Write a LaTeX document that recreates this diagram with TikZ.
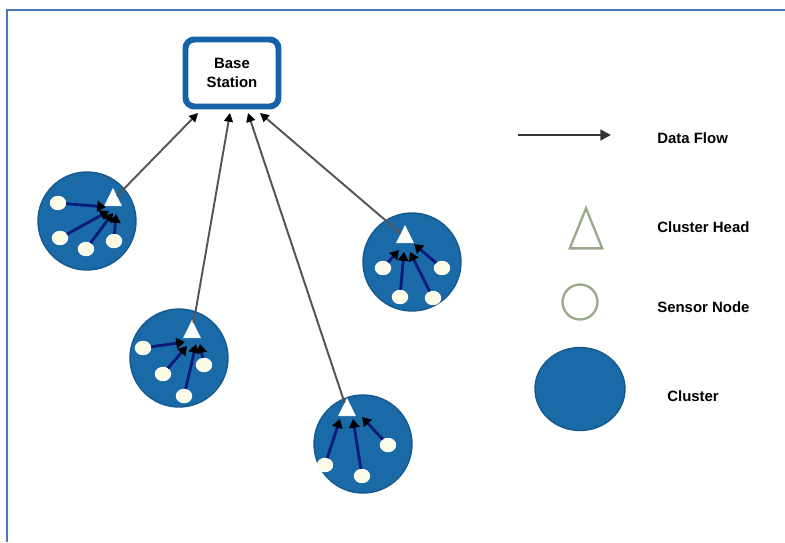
\documentclass[tikz,border=0pt]{standalone}
\usepackage{fontspec}
\setmainfont{Liberation Sans}
\usetikzlibrary{shapes.geometric,arrows.meta}
\definecolor{clblue}{HTML}{1B6AA8}
\definecolor{clborder}{HTML}{15588E}
\definecolor{bsblue}{HTML}{1662A8}
\definecolor{navy}{HTML}{0A1A78}
\definecolor{cream}{HTML}{FCFCE6}
\definecolor{framec}{HTML}{4A78C8}
\definecolor{legc}{HTML}{9AA88C}
\definecolor{flow}{HTML}{555555}
\begin{document}
\begin{tikzpicture}[x=0.02cm,y=-0.02cm,
  cluster/.style={circle,fill=clblue,draw=clborder,line width=0.8pt,minimum size=1.96cm,inner sep=0},
  sensor/.style={ellipse,fill=cream,draw=white,line width=0.5pt,minimum width=0.31cm,minimum height=0.27cm,inner sep=0},
  head/.style={regular polygon,regular polygon sides=3,fill=white,draw=white!90!clblue,line width=0.3pt,minimum size=0.46cm,inner sep=0,xscale=0.85,transform shape},
  inarrow/.style={draw=navy,line width=1.6pt,-{Triangle[length=5pt,width=6pt,color=black,fill=black]}},
  outarrow/.style={draw=flow,line width=1.1pt,-{Triangle[length=5pt,width=5pt,color=black,fill=black]}},
  lbl/.style={font=\bfseries\fontsize{8.5}{10}\selectfont,anchor=west,inner sep=0}]
\useasboundingbox (0,0) rectangle (785,542);
% frame
\draw[framec,line width=1.2pt] (7,542) -- (7,10) -- (785,10);
% base station
\node[draw=bsblue,line width=3.4pt,rounded corners=5pt,fill=white,
  minimum width=1.86cm,minimum height=1.34cm,inner sep=0,
  font=\bfseries\fontsize{8.5}{11}\selectfont,align=center] (bs) at (232,73) {Base\\Station};
\coordinate (e1) at (198,113);
\coordinate (e2) at (230,113);
\coordinate (e3) at (248,113);
\coordinate (e4) at (260,113);
% cluster 1
\node[cluster] (c1) at (87,221) {};
\node[head] (h1) at (113,200) {};
\node[sensor] (s11) at (58,203) {};
\node[sensor] (s12) at (60,238) {};
\node[sensor] (s13) at (86,249) {};
\node[sensor] (s14) at (114,241) {};
\coordinate (t11) at (106,207);
\coordinate (t12) at (109,211);
\coordinate (t13) at (113,213);
\coordinate (t14) at (116,214);
\draw[inarrow] (s11) -- (t11);
\draw[inarrow] (s12) -- (t12);
\draw[inarrow] (s13) -- (t13);
\draw[inarrow] (s14) -- (t14);
% cluster 2
\node[cluster] (c2) at (179,358) {};
\node[head] (h2) at (192,332) {};
\node[sensor] (s21) at (143,348) {};
\node[sensor] (s22) at (163,374) {};
\node[sensor] (s23) at (204,365) {};
\node[sensor] (s24) at (184,396) {};
\coordinate (t21) at (185,342);
\coordinate (t22) at (187,346);
\coordinate (t23) at (200,344);
\coordinate (t24) at (196,344);
\draw[inarrow] (s21) -- (t21);
\draw[inarrow] (s22) -- (t22);
\draw[inarrow] (s23) -- (t23);
\draw[inarrow] (s24) -- (t24);
% cluster 3
\node[cluster] (c3) at (363,444) {};
\node[head] (h3) at (347,410) {};
\node[sensor] (s31) at (325,465) {};
\node[sensor] (s32) at (362,476) {};
\node[sensor] (s33) at (388,445) {};
\coordinate (t31) at (340,419);
\coordinate (t32) at (353,419);
\coordinate (t33) at (362,417);
\draw[inarrow] (s31) -- (t31);
\draw[inarrow] (s32) -- (t32);
\draw[inarrow] (s33) -- (t33);
% cluster 4
\node[cluster] (c4) at (412,262) {};
\node[head] (h4) at (405,237) {};
\node[sensor] (s41) at (383,268) {};
\node[sensor] (s42) at (442,268) {};
\node[sensor] (s43) at (400,297) {};
\node[sensor] (s44) at (433,298) {};
\coordinate (t41) at (399,250);
\coordinate (t42) at (414,244);
\coordinate (t43) at (404,252);
\coordinate (t44) at (410,252);
\draw[inarrow] (s41) -- (t41);
\draw[inarrow] (s42) -- (t42);
\draw[inarrow] (s43) -- (t43);
\draw[inarrow] (s44) -- (t44);
% flows to base station
\draw[outarrow] (h1) -- (e1);
\draw[outarrow] (h2) -- (e2);
\draw[outarrow] (h3) -- (e3);
\draw[outarrow] (h4) -- (e4);
% legend
\coordinate (la) at (518,135);
\coordinate (lb) at (611,135);
\draw[draw=black!80,line width=1.3pt,-{Triangle[length=6pt,width=6pt]}] (la) -- (lb);
\node[lbl] (l1) at (657,138) {Data Flow};
\node[regular polygon,regular polygon sides=3,draw=legc,line width=1.3pt,minimum size=1.07cm,inner sep=0,xscale=0.7,transform shape] (lt) at (586,235) {};
\node[lbl] (l2) at (657,227) {Cluster Head};
\node[circle,draw=legc,line width=1.3pt,minimum size=0.70cm,inner sep=0] (lc) at (580,302) {};
\node[lbl] (l3) at (657,307) {Sensor Node};
\node[ellipse,fill=clblue,draw=clborder,line width=0.8pt,minimum width=1.8cm,minimum height=1.66cm,inner sep=0] (le) at (580,389) {};
\node[lbl] (l4) at (667,396) {Cluster};
\end{tikzpicture}
\end{document}
